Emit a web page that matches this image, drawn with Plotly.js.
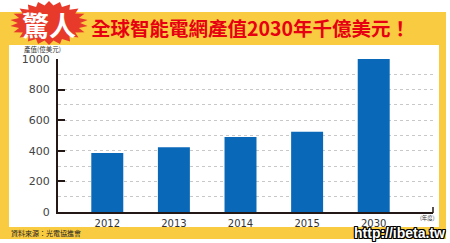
<!DOCTYPE html>
<html>
<head>
<meta charset="utf-8">
<script src="https://cdn.plot.ly/plotly-3.0.1.min.js"></script>
<style>html,body{margin:0;padding:0;background:#fff;}#chart{width:450px;height:243px;}</style>
</head>
<body>
<div id="chart"></div>
<script>
const categories = ["2012", "2013", "2014", "2015", "2030"];
const values = [385, 423, 490, 525, 1000];
const yTickVals = [0, 200, 400, 600, 800, 1000];
const yTickText = ["0", "200", "400", "600", "800", "1000"];

const W = 450, H = 243;
const px = x => x / W;
const py = y => 1 - y / H;

// starburst decoration
function starPath(cx, cy, rx, ry, n, inner) {
  let d = "";
  for (let i = 0; i < n * 2; i++) {
    const a = Math.PI * i / n - Math.PI / 2;
    const f = (i % 2 === 0) ? 1 : inner;
    const x = px(cx + rx * f * Math.cos(a));
    const y = py(cy + ry * f * Math.sin(a));
    d += (i === 0 ? "M" : "L") + x.toFixed(4) + "," + y.toFixed(4);
  }
  return d + "Z";
}

const darkAxis = "#231815";
const trace = {
  type: "bar",
  x: categories,
  y: values,
  width: 0.48,
  marker: { color: "#0A68B8" },
  hoverinfo: "skip"
};

const layout = {
  width: W, height: H,
  margin: { l: 0, r: 0, t: 0, b: 0, pad: 0 },
  paper_bgcolor: "#ffffff",
  plot_bgcolor: "rgba(0,0,0,0)",
  showlegend: false,
  xaxis: {
    domain: [px(58), px(433)],
    type: "category",
    range: [-0.74, 4.89],
    showline: true, linecolor: darkAxis, linewidth: 2,
    ticks: "", showgrid: false, zeroline: false,
    ticklabelstandoff: 1,
    tickfont: { family: "DejaVu Sans", size: 10, color: "#333" },
    fixedrange: true
  },
  yaxis: {
    domain: [py(212), py(59)],
    range: [0, 1000],
    tickvals: yTickVals, ticktext: yTickText,
    showline: true, linecolor: darkAxis, linewidth: 2,
    ticks: "inside", ticklen: 7, tickwidth: 2, tickcolor: darkAxis,
    ticklabelstandoff: 4,
    showgrid: true, gridcolor: "#c8c8c8", griddash: "dot", gridwidth: 1,
    minor: { dtick: 100, showgrid: true, gridcolor: "#c8c8c8", griddash: "dot", gridwidth: 1 },
    zeroline: false,
    tickfont: { family: "DejaVu Sans", size: 11, color: "#444" },
    fixedrange: true
  },
  shapes: [
    { type: "rect", xref: "paper", yref: "paper", layer: "below",
      x0: px(0), x1: px(446), y0: py(239), y1: py(12),
      fillcolor: "#F9CB40", line: { width: 0 } },
    { type: "rect", xref: "paper", yref: "paper", layer: "below",
      x0: px(9), x1: px(439), y0: py(227), y1: py(45),
      fillcolor: "#ffffff", line: { width: 0 } },
    { type: "line", xref: "paper", yref: "paper",
      x0: px(433), x1: px(433), y0: py(213), y1: py(207),
      line: { color: darkAxis, width: 1.5 } },
    { type: "path", xref: "paper", yref: "paper", layer: "above",
      path: starPath(49, 23, 39, 22, 22, 0.8),
      fillcolor: "#E83A2A", line: { width: 0 } }
  ],
  annotations: [
    { xref: "paper", yref: "paper", x: px(49), y: py(25), xanchor: "center", yanchor: "middle",
      text: "<b>驚人</b>", showarrow: false,
      font: { family: "Noto Sans CJK TC", size: 27, color: "#ffffff" } },
    { xref: "paper", yref: "paper", x: px(89), y: py(27), xanchor: "left", yanchor: "middle",
      text: "<b>全球智能電網產值2030年千億美元！</b>", showarrow: false,
      font: { family: "Noto Sans CJK TC", size: 19.5, color: "#E60012" } },
    { xref: "paper", yref: "paper", x: px(22), y: py(49), xanchor: "left", yanchor: "middle",
      text: "產值(億美元)", showarrow: false,
      font: { family: "Noto Sans CJK TC", size: 6.5, color: "#333" } },
    { xref: "paper", yref: "paper", x: px(418), y: py(218), xanchor: "left", yanchor: "middle",
      text: "(年度)", showarrow: false,
      font: { family: "Noto Sans CJK TC", size: 5.5, color: "#333" } },
    { xref: "paper", yref: "paper", x: px(9), y: py(233), xanchor: "left", yanchor: "middle",
      text: "資料來源：光電協進會", showarrow: false,
      font: { family: "Noto Sans CJK TC", size: 7, color: "#222" } },
    { xref: "paper", yref: "paper", x: px(399), y: py(232.5), xanchor: "center", yanchor: "middle",
      text: "<b>http://ibeta.tw</b>", showarrow: false,
      font: { family: "Liberation Sans", size: 14, color: "#ffffff",
        shadow: "1px 1px 0 #000, -1px -1px 0 #000, 1px -1px 0 #000, -1px 1px 0 #000, 0 1px 0 #000, 0 -1px 0 #000, 1px 0 0 #000, -1px 0 0 #000" } }
  ]
};

Plotly.newPlot("chart", [trace], layout, { displayModeBar: false, staticPlot: true });
</script>
</body>
</html>
